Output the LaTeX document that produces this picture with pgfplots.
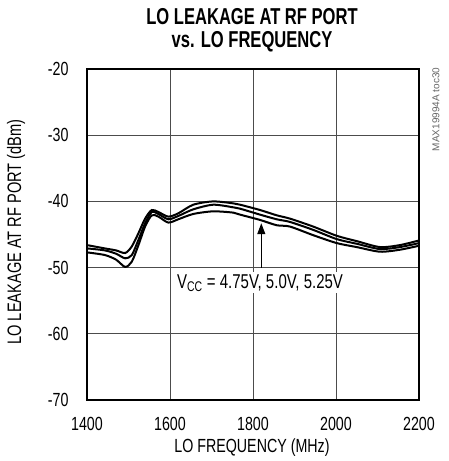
\documentclass[border=0pt]{standalone}
\usepackage{fontspec}
\setmainfont{Liberation Sans}[FakeStretch=0.75]
\newfontfamily\titlefont{Liberation Sans Bold}[FakeStretch=0.72]
\newfontfamily\smallfont{Liberation Sans}
\usepackage{pgfplots}
\pgfplotsset{compat=1.18}
\usetikzlibrary{arrows.meta}

% LO leakage at RF port, three supply voltages (top, middle, bottom trace)
\pgfplotstableread{
f     a      b      c
1400  -46.6  -47.1  -47.7
1443  -47.1  -47.4  -48.1
1470  -47.4  -47.9  -48.8
1492  -47.8  -48.6  -49.9
1508  -46.8  -48.1  -49.1
1524  -44.8  -45.8  -46.6
1540  -42.6  -43.3  -43.8
1556  -41.3  -41.6  -42.1
1572  -41.6  -41.9  -42.3
1596  -42.3  -42.7  -43.2
1620  -41.8  -42.2  -42.7
1656  -40.5  -41.2  -41.9
1704  -40.0  -40.5  -41.5
1753  -40.3  -40.9  -41.7
1769  -40.5  -41.1  -42.0
1817  -41.3  -42.0  -42.8
1857  -42.1  -42.7  -43.6
1889  -42.6  -43.1  -43.8
1945  -43.8  -44.3  -45.1
2002  -45.2  -45.7  -46.3
2050  -46.0  -46.4  -46.9
2106  -46.9  -47.2  -47.6
2154  -46.6  -46.9  -47.3
2200  -45.9  -46.3  -46.7
}\leakage

\begin{document}
\begin{tikzpicture}
\begin{axis}[
    scale only axis,
    width=332pt, height=331pt,
    xmin=1400, xmax=2200, ymin=-70, ymax=-20,
    xtick={1400,1600,...,2200},
    ytick={-70,-60,...,-20},
    grid=major,
    major grid style={line width=0.9pt, black!70},
    major tick length=0pt,
    axis line style={line width=2.2pt},
    /pgf/number format/assume math mode=true,
    /pgf/number format/set thousands separator={},
    tick label style={font=\fontsize{19}{22}\selectfont},
    xticklabel style={yshift=-14pt},
    yticklabel style={xshift=-15pt},
  ]
  \addplot[line width=2pt, smooth, tension=0.45] table[x=f, y=a] {\leakage};
  \addplot[line width=2pt, smooth, tension=0.45] table[x=f, y=b] {\leakage};
  \addplot[line width=2pt, smooth, tension=0.45] table[x=f, y=c] {\leakage};
  \node[fill=white, inner sep=2pt, font=\fontsize{20}{23}\selectfont]
    at (axis cs:1817,-52.3) {V\textsubscript{CC} = 4.75V, 5.0V, 5.25V};
  \draw[line width=1.1pt, -{Triangle[length=11pt, width=8pt]}]
    (axis cs:1820,-50) -- (axis cs:1820,-43.3);
\end{axis}
\node[font=\titlefont\fontsize{23}{25}\selectfont] at (165pt,383.5pt) {LO LEAKAGE AT RF PORT};
\node[font=\titlefont\fontsize{23}{25}\selectfont] at (165pt,358.5pt) {vs. LO FREQUENCY};
\node[font=\fontsize{19}{22}\selectfont] at (165pt,-48pt) {LO FREQUENCY (MHz)};
\node[font=\fontsize{19.5}{22}\selectfont, rotate=90] at (-71pt,168pt) {LO LEAKAGE AT RF PORT (dBm)};
\node[font=\smallfont\fontsize{10}{12}\selectfont, text=black!60, rotate=90] at (349pt,290.5pt) {MAX19994A toc30};
\pgfresetboundingbox
\path[use as bounding box] (-87pt,-61pt) rectangle (361pt,400pt);
\end{tikzpicture}
\end{document}
